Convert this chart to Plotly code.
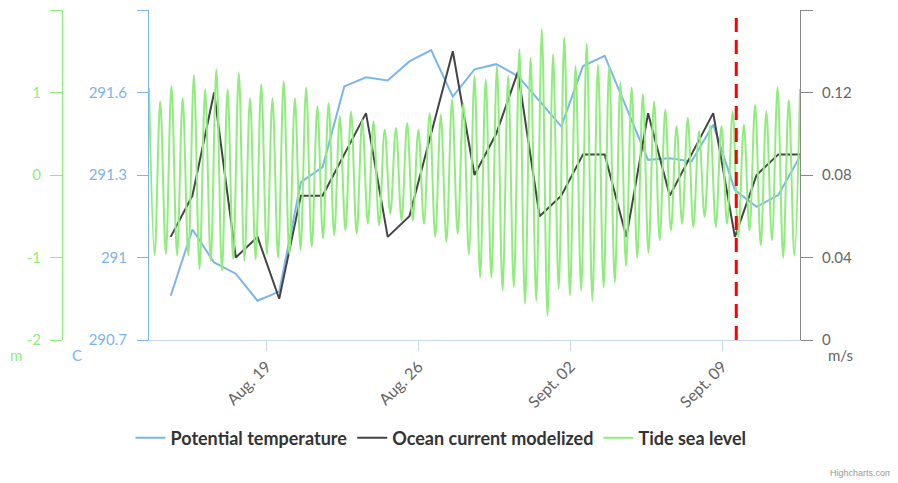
import pandas as pd
import plotly.graph_objects as go

# ---------------- data ----------------
day_start = "2019-08-14 14:00"
day_end = "2019-09-12 14:00"

temperature = [290.861, 291.102, 290.982, 290.941, 290.843, 290.876, 291.274, 291.329,
               291.622, 291.655, 291.644, 291.713, 291.754, 291.585, 291.684, 291.703,
               291.660, 291.568, 291.477, 291.696, 291.733, 291.545, 291.355, 291.361,
               291.349, 291.483, 291.245, 291.184, 291.227, 291.367]

current = [0.05, 0.07, 0.12, 0.04, 0.05, 0.02, 0.07, 0.07, 0.09, 0.11,
           0.05, 0.06, 0.10, 0.14, 0.08, 0.10, 0.13, 0.06, 0.07, 0.09,
           0.09, 0.05, 0.11, 0.07, 0.09, 0.11, 0.05, 0.08, 0.09, 0.09]

tide_start = "2019-08-13 14:00"
tide_end = "2019-09-12 14:00"
tide_highs = [1.05, 0.89, 1.08, 0.93, 1.21, 1.04, 1.28, 1.04, 1.24, 0.93, 1.10,
              0.93, 1.14, 0.93, 1.06, 0.83, 0.87, 0.71, 0.77, 0.67,
              0.65, 0.55, 0.57, 0.63, 0.55, 0.75, 0.73, 0.91, 0.87, 1.20,
              1.16, 1.32, 1.20, 1.52, 1.42, 1.77, 1.46, 1.67, 1.32, 1.59,
              1.34, 1.32, 1.12, 1.06, 0.98, 0.89, 0.79, 0.59, 0.69, 0.53,
              0.60, 0.59, 0.77, 0.61, 0.85, 0.77, 1.06, 0.91, 1.04]
tide_lows = [-0.97, -0.955, -0.976, -0.976, -1.14, -1.04, -1.16, -1.02, -1.04, -1.02,
             -0.96, -1.00, -0.96, -0.91, -0.87, -0.77, -0.73, -0.67, -0.71, -0.59,
             -0.61, -0.47, -0.55, -0.55, -0.59, -0.75, -0.81, -0.71, -0.96, -1.24,
             -1.24, -1.40, -1.36, -1.56, -1.52, -1.71, -1.38, -1.46, -1.40, -1.52,
             -1.36, -1.30, -1.10, -1.00, -0.94, -0.79, -0.67, -0.59, -0.63, -0.51,
             -0.63, -0.59, -0.75, -0.67, -0.85, -0.79, -1.00, -0.98]

now_marker = "2019-09-09 15:30"

x_tick_dates = ["2019-08-19", "2019-08-26", "2019-09-02", "2019-09-09"]
x_tick_text = ["Aug. 19", "Aug. 26", "Sept. 02", "Sept. 09"]

temp_ticks = [290.7, 291.0, 291.3, 291.6, 291.9]
temp_tick_text = ["290.7", "291", "291.3", "291.6", ""]
tide_ticks = [-2, -1, 0, 1, 2]
tide_tick_text = ["-2", "-1", "0", "1", ""]
cur_ticks = [0, 0.04, 0.08, 0.12, 0.16]
cur_tick_text = ["0", "0.04", "0.08", "0.12", ""]

# ---------------- build ----------------
days = pd.date_range(day_start, day_end, freq="D")
tide_values = []
for i, h in enumerate(tide_highs):
    tide_values.append(h)
    if i < len(tide_lows):
        tide_values.append(tide_lows[i])
tide_times = pd.date_range(tide_start, tide_end, periods=len(tide_values))

BLUE = "#7cb5ec"
DARK = "#434348"
GREEN = "#90ed7d"
GREY = "#666666"
FONT = "Lato"

fig = go.Figure()
fig.add_trace(go.Scatter(x=days, y=temperature, name="Potential temperature",
                         mode="lines", line=dict(color=BLUE, width=2), yaxis="y"))
fig.add_trace(go.Scatter(x=days, y=current, name="Ocean current modelized",
                         mode="lines", line=dict(color=DARK, width=2), yaxis="y2"))
fig.add_trace(go.Scatter(x=tide_times, y=tide_values, name="Tide sea level",
                         mode="lines", line=dict(color=GREEN, width=2, shape="spline"),
                         yaxis="y3"))

# page body has an 8px default margin: work in reference pixels, shift by OFF
OFF = 8
W, H = 898 - OFF, 483 - OFF
green_axis_px, plot_left_px, plot_right_px = 62, 149, 800
plot_top_px, plot_bottom_px = 10, 340
ML = green_axis_px - OFF
MR = W - (plot_right_px - OFF)
MT = plot_top_px - OFF
MB = H - (plot_bottom_px - OFF)
pw = W - ML - MR
ph = H - MT - MB
dom0 = (plot_left_px - green_axis_px) / pw


def px_x(p):
    return (p - OFF - ML) / pw


def px_y(p):
    return (H - MB - (p - OFF)) / ph


fig.update_layout(
    width=W, height=H,
    margin=dict(l=ML, r=MR, t=MT, b=MB),
    paper_bgcolor="white", plot_bgcolor="white",
    font=dict(family=FONT, size=13, color=GREY),
    showlegend=True,
    legend=dict(orientation="h", x=px_x(441), xanchor="center",
                y=px_y(438), yanchor="middle",
                font=dict(family="Lato", size=18, color="#333333", weight="bold"),
                itemwidth=30, tracegroupgap=0),
    xaxis=dict(domain=[dom0, 1], range=[tide_start, tide_end], type="date",
               tickvals=x_tick_dates, ticktext=x_tick_text, tickangle=-45,
               tickfont=dict(family=FONT, size=16, color=GREY),
               showgrid=False, zeroline=False,
               showline=True, linecolor="#ccd6eb", linewidth=1,
               ticks="outside", ticklen=10, tickcolor="#ccd6eb"),
    yaxis=dict(range=[290.7, 291.9], tickvals=temp_ticks, ticktext=temp_tick_text,
               anchor="x", side="left", showgrid=False, zeroline=False,
               showline=True, linecolor=BLUE, linewidth=1,
               ticks="outside", ticklen=11, tickcolor=BLUE, ticklabelstandoff=7,
               tickfont=dict(family=FONT, size=15, color=BLUE)),
    yaxis2=dict(range=[0, 0.16], tickvals=cur_ticks, ticktext=cur_tick_text,
                anchor="x", side="right", overlaying="y", showgrid=False, zeroline=False,
                showline=True, linecolor="#888888", linewidth=1,
                ticks="outside", ticklen=12, tickcolor="#888888", ticklabelstandoff=6,
                tickfont=dict(family=FONT, size=15, color=GREY)),
    yaxis3=dict(range=[-2, 2], tickvals=tide_ticks, ticktext=tide_tick_text,
                anchor="free", position=0, side="left", overlaying="y",
                showgrid=False, zeroline=False,
                showline=True, linecolor=GREEN, linewidth=1,
                ticks="outside", ticklen=12, tickcolor=GREEN, ticklabelstandoff=6,
                tickfont=dict(family=FONT, size=15, color=GREEN)),
)

fig.add_shape(type="line", xref="x", yref="paper", x0=now_marker, x1=now_marker,
              y0=0, y1=1, line=dict(color="red", width=3, dash="14px,8px"), layer="above")

annos = [
    ("m", 16, GREEN),
    ("C", 77, BLUE),
    ("m/s", 840, GREY),
]
for text, xp, col in annos:
    fig.add_annotation(text=text, xref="paper", yref="paper", x=px_x(xp), y=px_y(355),
                       showarrow=False, xanchor="center", yanchor="middle",
                       font=dict(family=FONT, size=15, color=col))

fig.add_annotation(text="Highcharts.com", xref="paper", yref="paper",
                   x=px_x(895), y=px_y(473), xanchor="right", yanchor="middle",
                   showarrow=False, font=dict(family="Liberation Sans", size=9, color="#999999"))

fig.write_html("out.html")
